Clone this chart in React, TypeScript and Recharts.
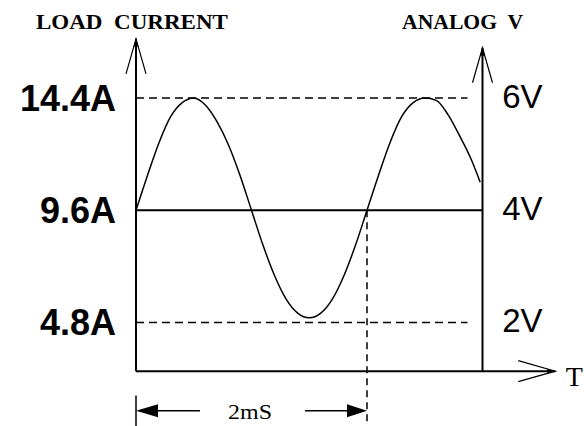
import { LineChart, Line, XAxis, YAxis, ReferenceLine, ReferenceDot } from 'recharts';

// load current, one value every 0.1 ms
const timeMs = [0, 0.1, 0.2, 0.3, 0.4, 0.5, 0.6, 0.7, 0.8, 0.9, 1.0, 1.1, 1.2, 1.3, 1.4, 1.5, 1.6, 1.7, 1.8, 1.9, 2.0, 2.1, 2.2, 2.3, 2.4, 2.5, 2.6, 2.7, 2.8, 2.9, 2.98];
const currentA = [9.6, 11.1, 12.5, 13.6, 14.2, 14.4, 14.1, 13.4, 12.4, 11.1, 9.6, 8.1, 6.8, 5.8, 5.2, 5.0, 5.2, 5.8, 6.8, 8.1, 9.6, 11.1, 12.5, 13.6, 14.2, 14.4, 14.3, 13.7, 12.8, 11.8, 10.8];

const currentTicks = [4.8, 9.6, 14.4];
const voltTicks = [2, 4, 6];
const ampsPerVolt = 2.4;
const periodMs = 2;

const data = timeMs.map((t, i) => ({ t, a: currentA[i] }));

const INK = '#000';
const SANS = "'Liberation Sans', Arial, sans-serif";
const SERIF = "'Liberation Serif', serif";
const AX = { xAxisId: 't', yAxisId: 'a', ifOverflow: 'visible' as const };

// axis ends, in chart units
const AXIS_TOP_L = 16.93;
const AXIS_TOP_R = 16.55;
const AXIS_BOTTOM = 2.72;
const T_END = 3.63;
const DIM_Y = 1.03;
const VOLT_LABEL_X = 3.17;

const upArrow = (p: any) => (
	<g>
		<path d={`M${p.cx - 10},${p.cy + 35} L${p.cx},${p.cy} L${p.cx + 10},${p.cy + 35}`} fill='none' stroke={INK} strokeWidth={1.2} />
		<polygon points={`${p.cx},${p.cy} ${p.cx - 2.5},${p.cy + 8} ${p.cx + 2.5},${p.cy + 8}`} fill={INK} />
	</g>
);

const rightArrow = (p: any) => (
	<g>
		<path d={`M${p.cx - 37},${p.cy - 10.5} L${p.cx},${p.cy} L${p.cx - 37},${p.cy + 10.5}`} fill='none' stroke={INK} strokeWidth={1.2} />
		<polygon points={`${p.cx},${p.cy} ${p.cx - 8},${p.cy - 2.5} ${p.cx - 8},${p.cy + 2.5}`} fill={INK} />
	</g>
);

const dimLeft = (p: any) => (
	<polygon points={`${p.cx},${p.cy} ${p.cx + 22},${p.cy - 6.5} ${p.cx + 22},${p.cy + 6.5}`} fill={INK} />
);
const dimRight = (p: any) => (
	<polygon points={`${p.cx},${p.cy} ${p.cx - 20},${p.cy - 6.5} ${p.cx - 20},${p.cy + 6.5}`} fill={INK} />
);

const textMark =
	(label: string, opts: { size: number; bold?: boolean; anchor?: string; len?: number; font?: string; dy?: string }) =>
	(p: any) => (
		<text
			x={p.cx}
			y={p.cy}
			dy={opts.dy}
			fontFamily={opts.font || SERIF}
			fontSize={opts.size}
			fontWeight={opts.bold ? 'bold' : 'normal'}
			textAnchor={opts.anchor || 'middle'}
			textLength={opts.len}
			lengthAdjust='spacingAndGlyphs'
			fill={INK}
			style={{ whiteSpace: 'pre' }}>
			{label}
		</text>
	);

export default function App() {
	return (
		<div style={{ position: 'absolute', left: 0, top: 0, background: '#fff' }}>
			<LineChart
				width={584}
				height={426}
				data={data}
				margin={{ top: 98, right: 101.5, left: 0, bottom: 103.5 }}>
				<XAxis xAxisId='t' dataKey='t' type='number' domain={[0, 3]} hide />
				<YAxis
					yAxisId='a'
					type='number'
					domain={[4.8, 14.4]}
					ticks={currentTicks}
					interval={0}
					width={136}
					axisLine={false}
					tickLine={false}
					tickSize={0}
					tickMargin={20}
					tickFormatter={(v: number) => `${v}A`}
					tick={{ fontSize: 36, fontWeight: 'bold', fill: INK, fontFamily: SANS }}
				/>

				{/* grid lines */}
				<ReferenceLine {...AX} segment={[{ x: 0, y: 14.4 }, { x: 2.87, y: 14.4 }]} stroke={INK} strokeWidth={1.5} strokeDasharray='8 5' />
				<ReferenceLine {...AX} segment={[{ x: 0, y: 9.6 }, { x: 3, y: 9.6 }]} stroke={INK} strokeWidth={1.8} />
				<ReferenceLine {...AX} segment={[{ x: 0, y: 4.8 }, { x: 2.87, y: 4.8 }]} stroke={INK} strokeWidth={1.5} strokeDasharray='8 5' />
				<ReferenceLine {...AX} segment={[{ x: periodMs, y: 9.6 }, { x: periodMs, y: 0.2 }]} stroke={INK} strokeWidth={1.5} strokeDasharray='7 5' />

				{/* axes */}
				<ReferenceLine {...AX} segment={[{ x: 0, y: AXIS_BOTTOM }, { x: 0, y: AXIS_TOP_L }]} stroke={INK} strokeWidth={2} />
				<ReferenceLine {...AX} segment={[{ x: 3, y: AXIS_BOTTOM }, { x: 3, y: AXIS_TOP_R }]} stroke={INK} strokeWidth={2} />
				<ReferenceLine {...AX} segment={[{ x: 0, y: AXIS_BOTTOM }, { x: T_END, y: AXIS_BOTTOM }]} stroke={INK} strokeWidth={2} />
				<ReferenceDot {...AX} x={0} y={AXIS_TOP_L} r={0} shape={upArrow} />
				<ReferenceDot {...AX} x={3} y={AXIS_TOP_R} r={0} shape={upArrow} />
				<ReferenceDot {...AX} x={T_END} y={AXIS_BOTTOM} r={0} shape={rightArrow} />

				{/* analog voltage ticks on the right axis */}
				{voltTicks.map((v) => (
					<ReferenceDot
						key={v}
						{...AX}
						x={VOLT_LABEL_X}
						y={v * ampsPerVolt}
						r={0}
						shape={textMark(`${v}V`, { size: 33, anchor: 'start', font: SANS, dy: '0.3em' })}
					/>
				))}

				{/* 2 ms dimension */}
				<ReferenceLine {...AX} segment={[{ x: 0, y: 1.68 }, { x: 0, y: 0.2 }]} stroke={INK} strokeWidth={1.5} />
				<ReferenceLine {...AX} segment={[{ x: 0.1, y: DIM_Y }, { x: 0.554, y: DIM_Y }]} stroke={INK} strokeWidth={1.5} />
				<ReferenceLine {...AX} segment={[{ x: 1.463, y: DIM_Y }, { x: 1.9, y: DIM_Y }]} stroke={INK} strokeWidth={1.5} />
				<ReferenceDot {...AX} x={0} y={DIM_Y} r={0} shape={dimLeft} />
				<ReferenceDot {...AX} x={periodMs} y={DIM_Y} r={0} shape={dimRight} />

				{/* texts */}
				<ReferenceDot {...AX} x={-0.035} y={17.36} r={0} shape={textMark('LOAD  CURRENT', { size: 22, bold: true, len: 192 })} />
				<ReferenceDot {...AX} x={2.827} y={17.36} r={0} shape={textMark('ANALOG  V', { size: 22, bold: true, len: 121 })} />
				<ReferenceDot {...AX} x={0.987} y={0.69} r={0} shape={textMark('2mS', { size: 22, len: 44 })} />
				<ReferenceDot {...AX} x={3.72} y={2.1} r={0} shape={textMark('T', { size: 28, anchor: 'start' })} />

				<Line
					xAxisId='t'
					yAxisId='a'
					type='monotone'
					dataKey='a'
					stroke={INK}
					strokeWidth={1.5}
					dot={false}
					isAnimationActive={false}
				/>
			</LineChart>
		</div>
	);
}
